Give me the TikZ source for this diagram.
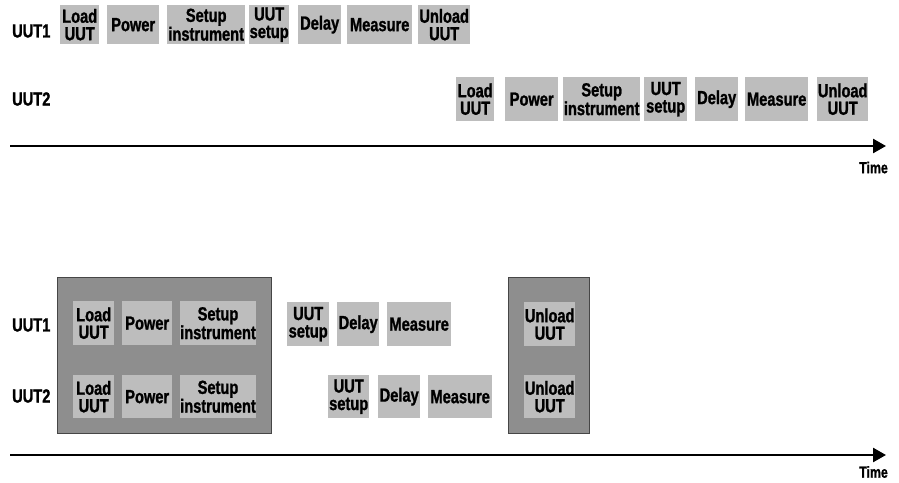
\documentclass[tikz,border=0pt]{standalone}
\usepackage{fontspec}
\setmainfont{Liberation Sans}[FakeStretch=0.77, BoldFeatures={FakeBold=1.2}]
\usetikzlibrary{arrows.meta}
\definecolor{cellgray}{RGB}{189,189,189}
\definecolor{groupgray}{RGB}{142,142,142}
\definecolor{edgegray}{RGB}{70,70,70}
\begin{document}
\begin{tikzpicture}[x=1pt,y=-1pt,
    cell/.style={fill=cellgray, anchor=north west, inner sep=0pt, align=center,
      font=\bfseries\fontsize{19}{17.5}\selectfont},
    group/.style={fill=groupgray, draw=edgegray, line width=0.8pt, anchor=north west, inner sep=0pt},
    uut/.style={anchor=west, inner sep=0pt, font=\bfseries\fontsize{19}{19}\selectfont},
    timelbl/.style={anchor=east, inner sep=0pt, font=\bfseries\fontsize{16}{16}\selectfont},
    timeline/.style={line width=2.6pt, -{Triangle[length=13pt,width=14pt]}}]
    \useasboundingbox (0,0) rectangle (899,482);
    % sequential testing
    \node[uut] (top1) at (12,31) {UUT1};
    \node[cell, minimum width=39, minimum height=39] (tl1) at (60,5) {Load\\UUT};
    \node[cell, minimum width=52, minimum height=39] (tp1) at (107,5) {Power};
    \node[cell, minimum width=78, minimum height=39] (ts1) at (167,5) {Setup\\instrument};
    \node[cell, minimum width=40, minimum height=39] (tu1) at (249,5) {UUT\\setup};
    \node[cell, minimum width=43, minimum height=39] (td1) at (298,5) {Delay};
    \node[cell, minimum width=65, minimum height=39] (tm1) at (347,5) {Measure};
    \node[cell, minimum width=52, minimum height=39] (tul1) at (418,5) {Unload\\UUT};

    \node[uut] (top2) at (12,99) {UUT2};
    \node[cell, minimum width=38, minimum height=44] (tl2) at (456,77) {Load\\UUT};
    \node[cell, minimum width=53, minimum height=44] (tp2) at (505,77) {Power};
    \node[cell, minimum width=77, minimum height=44] (ts2) at (563,77) {Setup\\instrument};
    \node[cell, minimum width=43, minimum height=44] (tu2) at (644,77) {UUT\\setup};
    \node[cell, minimum width=43, minimum height=44] (td2) at (695,77) {Delay};
    \node[cell, minimum width=63, minimum height=44] (tm2) at (745,77) {Measure};
    \node[cell, minimum width=51, minimum height=44] (tul2) at (817,77) {Unload\\UUT};

    \coordinate (ta) at (10,146);
    \coordinate (tb) at (886,146);
    \draw[timeline] (ta) -- (tb);
    \node[timelbl] (ttime) at (888,167.5) {Time};

    % parallel testing
    \node[group, minimum width=214, minimum height=156] (prep) at (57,277) {};
    \node[group, minimum width=81, minimum height=156] (unload) at (508,277) {};

    \node[uut] (bot1) at (12,325) {UUT1};
    \node[cell, minimum width=41, minimum height=44] (bl1) at (73,301) {Load\\UUT};
    \node[cell, minimum width=50, minimum height=44] (bp1) at (122,301) {Power};
    \node[cell, minimum width=75, minimum height=44] (bs1) at (180,301) {Setup\\instrument};
    \node[cell, minimum width=42, minimum height=44] (bu1) at (287,302) {UUT\\setup};
    \node[cell, minimum width=42, minimum height=44] (bd1) at (337,302) {Delay};
    \node[cell, minimum width=64, minimum height=44] (bm1) at (387,302) {Measure};
    \node[cell, minimum width=51, minimum height=44] (bul1) at (524,302) {Unload\\UUT};

    \node[uut] (bot2) at (12,396) {UUT2};
    \node[cell, minimum width=41, minimum height=43] (bl2) at (73,375) {Load\\UUT};
    \node[cell, minimum width=50, minimum height=43] (bp2) at (122,375) {Power};
    \node[cell, minimum width=75, minimum height=43] (bs2) at (180,375) {Setup\\instrument};
    \node[cell, minimum width=41, minimum height=43] (bu2) at (328,375) {UUT\\setup};
    \node[cell, minimum width=42, minimum height=43] (bd2) at (378,375) {Delay};
    \node[cell, minimum width=64, minimum height=43] (bm2) at (428,375) {Measure};
    \node[cell, minimum width=51, minimum height=43] (bul2) at (524,375) {Unload\\UUT};

    \coordinate (ba) at (10,455);
    \coordinate (bb) at (886,455);
    \draw[timeline] (ba) -- (bb);
    \node[timelbl] (btime) at (888,472) {Time};
\end{tikzpicture}
\end{document}
